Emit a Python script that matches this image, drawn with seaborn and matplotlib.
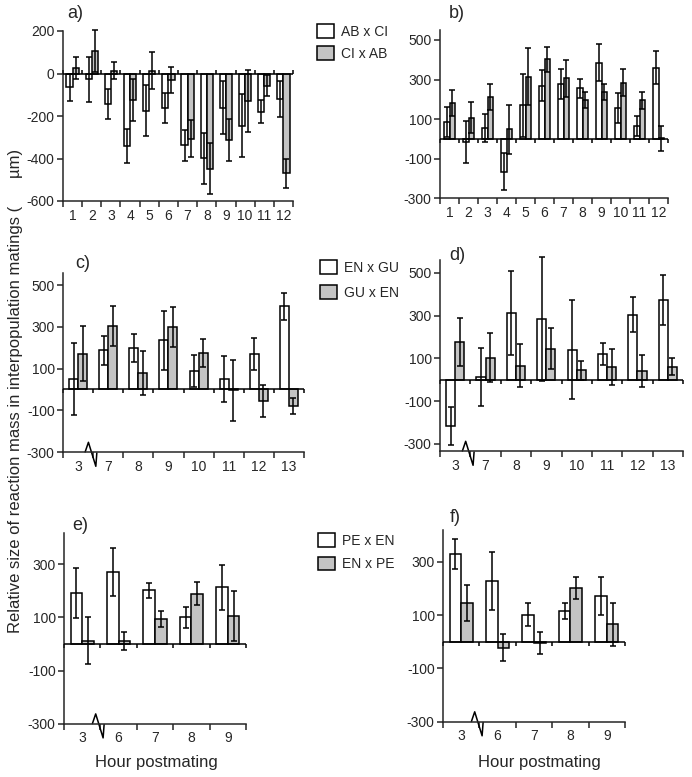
import numpy as np
import pandas as pd
import matplotlib
matplotlib.use("Agg")
import matplotlib.pyplot as plt
import seaborn as sns
from matplotlib.patches import Patch
from matplotlib import transforms

# ---------------- data ----------------
ab_groups = ['1', '2', '3', '4', '5', '6', '7', '8', '9', '10', '11', '12']
ab_names = ['AB x CI', 'CI x AB']
a_ab_ci = [-65, -28, -145, -342, -175, -163, -338, -398, -160, -245, -180, -118]
a_ab_ci_err = [65, 108, 70, 80, 120, 70, 72, 120, 125, 150, 55, 85]
a_ci_ab = [25, 105, 13, -125, 12, -30, -306, -448, -312, -130, -58, -470]
a_ci_ab_err = [52, 100, 40, 100, 87, 62, 88, 120, 100, 145, 50, 70]

b_ab_ci = [85, -15, 55, -165, 170, 268, 277, 255, 385, 157, 65, 360]
b_ab_ci_err = [75, 105, 70, 95, 160, 78, 78, 50, 92, 77, 50, 82]
b_ci_ab = [182, 108, 210, 48, 315, 402, 306, 198, 235, 284, 195, 3]
b_ci_ab_err = [65, 80, 65, 122, 145, 62, 92, 40, 40, 67, 42, 63]

en_groups = ['3', '7', '8', '9', '10', '11', '12', '13']
en_names = ['EN x GU', 'GU x EN']
c_en_gu = [52, 188, 198, 235, 88, 50, 172, 400]
c_en_gu_err = [173, 70, 68, 140, 75, 112, 77, 65]
c_gu_en = [172, 305, 80, 300, 175, -5, -56, -80]
c_gu_en_err = [130, 95, 105, 95, 67, 145, 75, 37]

d_en_gu = [-215, 12, 312, 285, 140, 120, 305, 375]
d_en_gu_err = [88, 135, 195, 290, 232, 52, 82, 117]
d_gu_en = [178, 104, 66, 145, 45, 60, 40, 62]
d_gu_en_err = [112, 115, 100, 95, 45, 85, 75, 38]

pe_groups = ['3', '6', '7', '8', '9']
pe_names = ['PE x EN', 'EN x PE']
e_pe_en = [193, 272, 202, 100, 213]
e_pe_en_err = [95, 90, 28, 38, 85]
e_en_pe = [12, 12, 93, 190, 106]
e_en_pe_err = [88, 35, 30, 45, 95]

f_pe_en = [330, 228, 102, 115, 172]
f_pe_en_err = [55, 110, 44, 31, 72]
f_en_pe = [145, -22, -5, 202, 65]
f_en_pe_err = [68, 52, 42, 41, 80]

ylabel_text = "Relative size of reaction mass in interpopulation matings (      \u00b5m)"
xlabel_text = "Hour postmating"

# ---------------- style ----------------
sns.set_style("ticks")
plt.rcParams['font.family'] = ['Liberation Sans', 'DejaVu Sans']
plt.rcParams['axes.unicode_minus'] = False

WHITE = '#ffffff'
GRAY = '#c4c4c4'
W, H = 692, 777
fig = plt.figure(figsize=(W / 100, H / 100), dpi=100)


def fx(px):
    return px / W


def fy(py):
    return 1 - py / H


def panel(rect, groups, names, s1, e1, s2, e2, ylim, yticks, width, zero_dir, brk):
    left, right, top, bottom = rect
    ax = fig.add_axes([fx(left), fy(bottom), (right - left) / W, (bottom - top) / H])
    n = len(groups)
    df = pd.DataFrame({'hour': groups * 2,
                       'cross': [names[0]] * n + [names[1]] * n,
                       'value': list(s1) + list(s2)})
    sns.barplot(data=df, x='hour', y='value', hue='cross', order=groups,
                hue_order=names, palette=[WHITE, GRAY], edgecolor='black',
                linewidth=1.1, errorbar=None, width=width, gap=0,
                legend=False, ax=ax, saturation=1)
    x = np.arange(n)
    for off, s, e in ((-width / 4, s1, e1), (width / 4, s2, e2)):
        ax.errorbar(x + off, s, yerr=e, fmt='none', ecolor='black',
                    elinewidth=1.1, capsize=2.3, capthick=1.1, clip_on=False,
                    zorder=3)
    ax.axhline(0, color='black', lw=1.1, zorder=4)
    ax.set_xlim(-0.5, n - 0.5)
    ax.set_ylim(*ylim)
    ax.set_yticks(yticks)
    ax.set_yticklabels([str(t) for t in yticks])
    ax.set_xticks(np.arange(n + 1) - 0.5)
    ax.set_xticklabels([''] * (n + 1))
    ax.set_xticks(x, minor=True)
    ax.set_xticklabels(groups, minor=True)
    ax.tick_params(axis='x', which='major', length=4, width=1.1, direction='out')
    ax.tick_params(axis='x', which='minor', length=0, labelsize=10, pad=5.5)
    ax.tick_params(axis='y', length=4, width=1.1, labelsize=10, pad=2)
    for sp in ('top', 'right'):
        ax.spines[sp].set_visible(False)
    for sp in ('left', 'bottom'):
        ax.spines[sp].set_linewidth(1.1)
    ax.set_xlabel('')
    ax.set_ylabel('')
    # ticks on the zero line
    y0 = (0 - ylim[0]) / (ylim[1] - ylim[0])
    L = 4 / (bottom - top)
    trans = transforms.blended_transform_factory(ax.transData, ax.transAxes)
    ax.vlines(np.arange(n + 1) - 0.5, y0, y0 + L * zero_dir, transform=trans,
              colors='black', lw=1.1, clip_on=False)
    # axis break mark
    if brk:
        bx = left + 1.0 / n * (right - left)
        pts = [(-8, 0), (-4.7, 9.7), (2.7, -14.3), (3.7, -1)]
        xs = [fx(bx + dx) for dx, dy in pts]
        ys = [fy(bottom - dy) for dx, dy in pts]
        ax.plot(xs, ys, color='black', lw=1.1, transform=fig.transFigure,
                clip_on=False)
    return ax


# a)
panel((63, 293, 31, 201), ab_groups, ab_names, a_ab_ci, a_ab_ci_err, a_ci_ab,
      a_ci_ab_err, (-600, 200), [-600, -400, -200, 0, 200], 0.64, 1, False)
# b)
panel((440, 668, 30, 198.3), ab_groups, ab_names, b_ab_ci, b_ab_ci_err, b_ci_ab,
      b_ci_ab_err, (-300, 550), [-300, -100, 100, 300, 500], 0.62, -1, False)
# c)
panel((63, 304, 272.7, 452), en_groups, en_names, c_en_gu, c_en_gu_err, c_gu_en,
      c_gu_en_err, (-300, 560), [-300, -100, 100, 300, 500], 0.6, -1, True)
# d)
panel((440, 683, 260, 451), en_groups, en_names, d_en_gu, d_en_gu_err, d_gu_en,
      d_gu_en_err, (-333, 560), [-300, -100, 100, 300, 500], 0.6, -1, True)
# e)
panel((64, 246, 532.5, 723.6), pe_groups, pe_names, e_pe_en, e_pe_en_err, e_en_pe,
      e_en_pe_err, (-300, 420), [-300, -100, 100, 300], 0.64, -1, True)
# f)
panel((443, 625, 530, 721.5), pe_groups, pe_names, f_pe_en, f_pe_en_err, f_en_pe,
      f_en_pe_err, (-300, 420), [-300, -100, 100, 300], 0.64, -1, True)

# panel letters
for lab, px, py in (('a)', 67, 13), ('b)', 449, 13), ('c)', 75, 263),
                    ('d)', 449, 255), ('e)', 72, 525), ('f)', 450, 518)):
    fig.text(fx(px), fy(py), lab, fontsize=13, ha='left', va='center')


# legends
def legend(names, px, py, spacing):
    handles = [Patch(facecolor=WHITE, edgecolor='black', lw=1.1),
               Patch(facecolor=GRAY, edgecolor='black', lw=1.1)]
    fig.legend(handles, names, loc='upper left', bbox_to_anchor=(fx(px), fy(py)),
               frameon=False, fontsize=10, handlelength=1.2, handleheight=1.15,
               handletextpad=0.5, labelspacing=spacing, borderpad=0,
               borderaxespad=0)


legend(ab_names, 317, 24, 0.55)
legend(en_names, 320, 260, 0.75)
legend(pe_names, 318, 533, 0.65)

# axis titles
fig.text(0.022, fy(391), ylabel_text, rotation=90, fontsize=12,
         ha='center', va='center')
fig.text(fx(156), fy(762), xlabel_text, fontsize=12, ha='center', va='center')
fig.text(fx(539), fy(762), xlabel_text, fontsize=12, ha='center', va='center')

fig.savefig('out.png', dpi=100)
